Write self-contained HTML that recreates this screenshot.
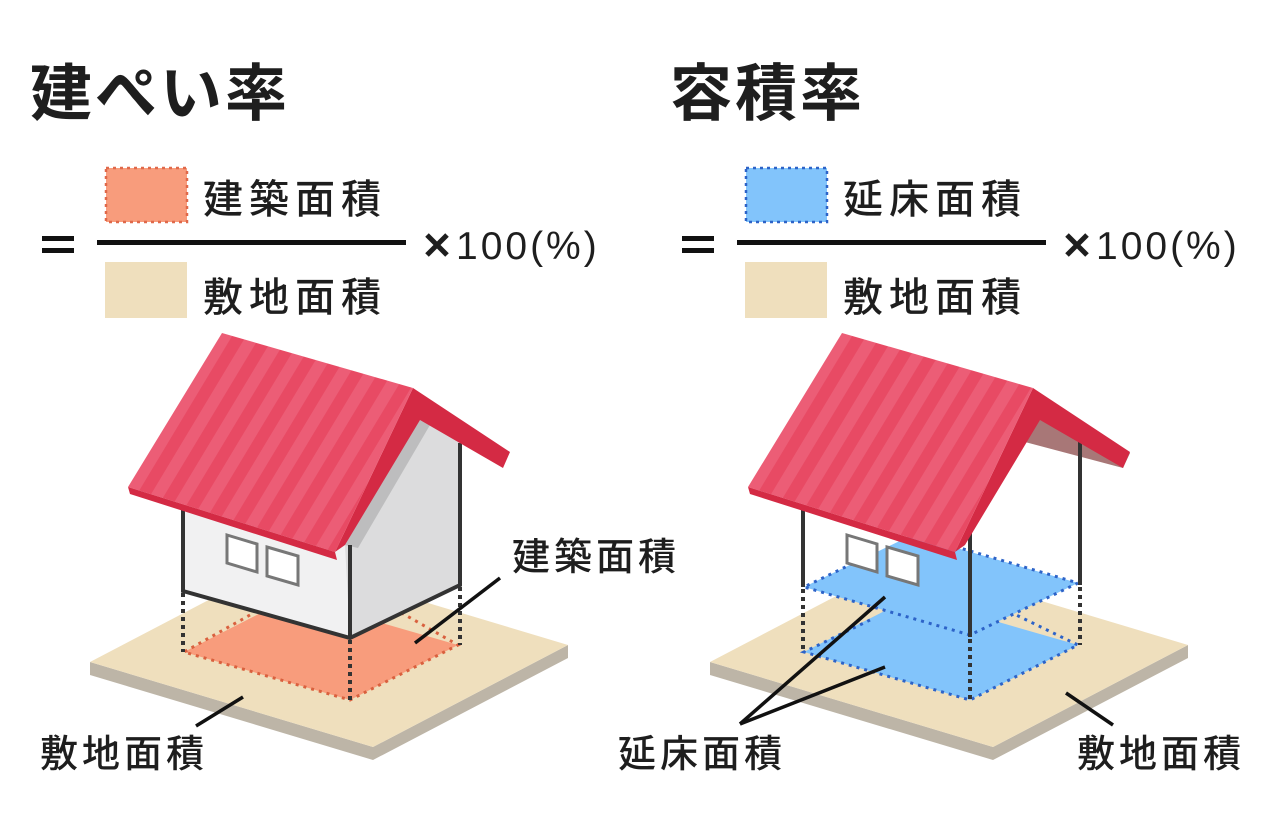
<!DOCTYPE html>
<html><head><meta charset="utf-8"><style>
html,body{margin:0;padding:0;background:#fff;}
svg{display:block;}
text{font-family:"Liberation Sans","Noto Sans CJK JP",sans-serif;fill:#1e1e1e;}
.t{font-size:62px;font-weight:700;}
.l{font-size:40px;font-weight:500;letter-spacing:6px;}
.b{font-size:38px;font-weight:500;letter-spacing:4px;}
.s{font-size:39px;font-weight:500;letter-spacing:3px;}
</style></head><body>
<svg width="1280" height="830" viewBox="0 0 1280 830" xmlns="http://www.w3.org/2000/svg">
<defs>
<pattern id="st" width="24" height="24" patternUnits="userSpaceOnUse" patternTransform="rotate(31)">
<rect width="24" height="24" fill="#e84a64"/><rect width="12" height="24" fill="#ec5d76"/>
</pattern>
<g id="slab">
<polygon points="90,662 373,747 568,645 568,658 373,760 90,675" fill="#bdb5a7"/>
<polygon points="90,662 285,560 568,645 373,747" fill="#efdfbd"/>
</g>
<g id="roof">
<polygon points="413,388 510,452 503,468 420,420 345,545 335,552" fill="#d42a44"/>
<polygon points="128,487 222,333 413,388 335,552" fill="url(#st)"/>
<polygon points="128,487 335,552 337,560 130,494" fill="#d42a44"/>
</g>
<g id="times"><path d="M0,0 L20,20 M20,0 L0,20" stroke="#1e1e1e" stroke-width="5"/></g>
</defs>

<!-- LEFT -->
<text class="t" x="30" y="115" style="letter-spacing:3px">建ぺい率</text>
<rect x="42" y="236" width="32" height="5" fill="#111"/><rect x="42" y="248" width="32" height="5" fill="#111"/>
<rect x="106" y="168" width="81" height="54" fill="#f89c7c" stroke="#e0694a" stroke-width="2.5" stroke-dasharray="3 4"/>
<text class="l" x="203" y="213">建築面積</text>
<rect x="97" y="240" width="309" height="5" fill="#111"/>
<rect x="105" y="262" width="82" height="56" fill="#efdfbd"/>
<text class="l" x="203" y="311">敷地面積</text>
<use href="#times" x="427" y="235"/>
<text class="s" x="456" y="259">100(%)</text>

<use href="#slab"/>
<polygon points="184,652 292,597 458,645 350,700" fill="#f89c7c"/>
<polyline points="250,615 184,652 350,700 458,645 400,612" fill="none" stroke="#d9603e" stroke-width="3" stroke-dasharray="3 5"/>
<polygon points="183,505 183,591 350,638 350,545" fill="#f1f1f2"/>
<polygon points="345,545 420,417 460,443 460,585 350,638" fill="#dcdcdd"/>
<polygon points="345,545 420,417 430,425 358,548" fill="#bdbdbe"/>
<polyline points="183,505 183,591 350,638 460,585 460,443" fill="none" stroke="#333" stroke-width="4"/>
<line x1="350" y1="545" x2="350" y2="638" stroke="#333" stroke-width="4"/>
<g stroke="#333" stroke-width="4" stroke-dasharray="4 4">
<line x1="183" y1="593" x2="183" y2="652"/><line x1="350" y1="640" x2="350" y2="700"/><line x1="460" y1="587" x2="460" y2="645"/>
</g>
<polygon points="227,535 257,544 257,572 227,563" fill="#fff" stroke="#777" stroke-width="3"/>
<polygon points="267,547 298,556 298,585 267,576" fill="#fff" stroke="#777" stroke-width="3"/>
<use href="#roof"/>
<line x1="500" y1="578" x2="415" y2="643" stroke="#111" stroke-width="3.5"/>
<text class="b" x="512" y="570">建築面積</text>
<line x1="196" y1="726" x2="243" y2="697" stroke="#111" stroke-width="3.5"/>
<text class="b" x="40" y="767">敷地面積</text>

<!-- RIGHT -->
<text class="t" x="670" y="115" style="letter-spacing:3px">容積率</text>
<rect x="682" y="236" width="32" height="5" fill="#111"/><rect x="682" y="248" width="32" height="5" fill="#111"/>
<rect x="746" y="168" width="81" height="54" fill="#82c4fb" stroke="#2d63c8" stroke-width="2.5" stroke-dasharray="3 4"/>
<text class="l" x="843" y="213">延床面積</text>
<rect x="737" y="240" width="309" height="5" fill="#111"/>
<rect x="745" y="262" width="82" height="56" fill="#efdfbd"/>
<text class="l" x="843" y="311">敷地面積</text>
<use href="#times" x="1067" y="235"/>
<text class="s" x="1096" y="259">100(%)</text>

<g transform="translate(620,0)"><use href="#slab"/></g>
<polygon points="1035,390 1130,453 1123,468 1025,442" fill="#a87777"/>
<polygon points="804,652 912,597 1078,645 970,700" fill="#82c4fb"/>
<polyline points="870,620 804,652 970,700 1078,645 1010,612" fill="none" stroke="#2d63c8" stroke-width="3" stroke-dasharray="3 5"/>
<polygon points="804,587 912,535 1078,583 970,635" fill="#82c4fb"/>
<polyline points="860,560 804,587 970,635 1078,583 960,548" fill="none" stroke="#2d63c8" stroke-width="3" stroke-dasharray="3 5"/>
<polygon points="847,535 877,544 877,572 847,563" fill="#fff" stroke="#777" stroke-width="3"/>
<polygon points="887,547 918,556 918,585 887,576" fill="#fff" stroke="#777" stroke-width="3"/>
<g stroke="#333" stroke-width="4">
<line x1="803" y1="505" x2="803" y2="587"/><line x1="970" y1="527" x2="970" y2="637"/><line x1="1080" y1="440" x2="1080" y2="585"/>
</g>
<g stroke="#333" stroke-width="4" stroke-dasharray="4 4">
<line x1="803" y1="589" x2="803" y2="652"/><line x1="970" y1="639" x2="970" y2="700"/><line x1="1080" y1="587" x2="1080" y2="645"/>
</g>
<g transform="translate(620,0)"><use href="#roof"/></g>
<line x1="740" y1="724" x2="885" y2="597" stroke="#111" stroke-width="3.5"/>
<line x1="740" y1="724" x2="885" y2="667" stroke="#111" stroke-width="3.5"/>
<text class="b" x="618" y="767">延床面積</text>
<line x1="1113" y1="725" x2="1066" y2="693" stroke="#111" stroke-width="3.5"/>
<text class="b" x="1077" y="767">敷地面積</text>
</svg>
</body></html>
